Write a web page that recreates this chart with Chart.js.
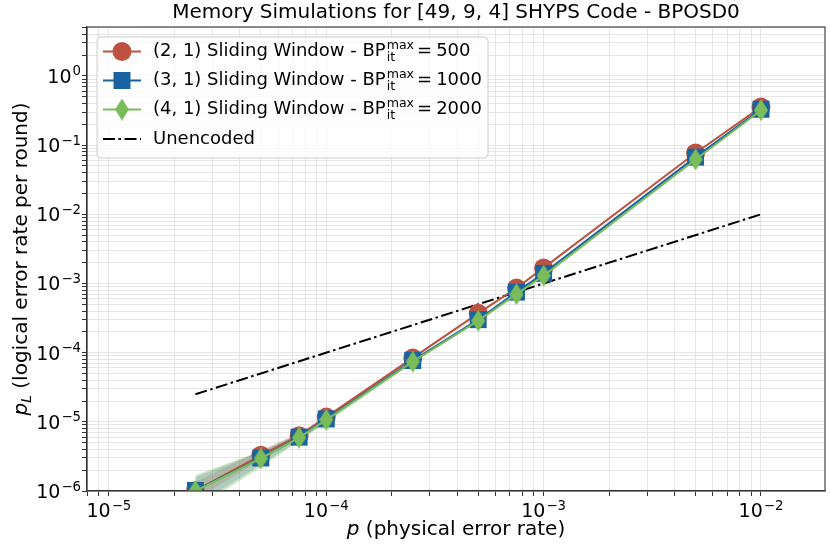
<!DOCTYPE html>
<html>
<head>
<meta charset="utf-8">
<script src="https://cdn.jsdelivr.net/npm/chart.js@4"></script>
<style>
  html, body { margin: 0; padding: 0; background: #fff; }
  #wrap { width: 830px; height: 554px; }
</style>
</head>
<body>
<div id="wrap"><canvas id="c" width="830" height="554"></canvas></div>
<script>
// ---- data ----
const physErr = [2.5e-5, 5e-5, 7.5e-5, 1e-4, 2.5e-4, 5e-4, 7.5e-4, 1e-3, 5e-3, 1e-2];
const sw21 = [1.0e-6, 3.3e-6, 6.3e-6, 1.17e-5, 8.4e-5, 3.7e-4, 8.6e-4, 1.68e-3, 0.077, 0.355];
const sw31 = [1.02e-6, 3.0e-6, 6.0e-6, 1.1e-5, 7.7e-5, 3.0e-4, 7.5e-4, 1.4e-3, 0.067, 0.33];
const sw41 = [1.0e-6, 2.95e-6, 5.9e-6, 1.07e-5, 7.4e-5, 2.9e-4, 7.0e-4, 1.3e-3, 0.062, 0.32];
const sw21Lo = [7.5e-7, 2.8e-6, 5.7e-6, 1.09e-5, 8.1e-5, 3.6e-4, 8.4e-4, 1.65e-3, 0.076, 0.352];
const sw21Hi = [1.35e-6, 3.9e-6, 6.9e-6, 1.26e-5, 8.7e-5, 3.8e-4, 8.8e-4, 1.71e-3, 0.078, 0.358];
const sw31Lo = [6.0e-7, 2.4e-6, 5.4e-6, 1.0e-5, 7.4e-5, 2.9e-4, 7.3e-4, 1.37e-3, 0.066, 0.327];
const sw31Hi = [1.6e-6, 3.7e-6, 6.7e-6, 1.2e-5, 8.0e-5, 3.1e-4, 7.7e-4, 1.43e-3, 0.068, 0.333];
const sw41Lo = [5.5e-7, 2.2e-6, 5.2e-6, 9.7e-6, 7.1e-5, 2.8e-4, 6.8e-4, 1.27e-3, 0.061, 0.317];
const sw41Hi = [1.7e-6, 3.8e-6, 6.7e-6, 1.18e-5, 7.7e-5, 3.0e-4, 7.2e-4, 1.33e-3, 0.063, 0.323];
const unencX = [2.5e-5, 1e-2];
const unencY = [2.5e-5, 1e-2];
const seriesNames = ['(2, 1) Sliding Window - BP', '(3, 1) Sliding Window - BP', '(4, 1) Sliding Window - BP'];
const bpMax = ['500', '1000', '2000'];
const unencName = 'Unencoded';
const titleText = 'Memory Simulations for [49, 9, 4] SHYPS Code - BPOSD0';
const xTitle = ' (physical error rate)';
const yTitle = ' (logical error rate per round)';

// ---- styles ----
const RED = '#bd5242', BLUE = '#1a63a0', GREEN = '#7bbc5a';
const FONT = "'DejaVu Sans'";

function pts(xs, ys) { return xs.map((x, i) => ({ x: x, y: ys[i] })); }

function diamondImg(w, h, color) {
  const c = document.createElement('canvas');
  c.width = w; c.height = h;
  const g = c.getContext('2d');
  g.fillStyle = color;
  g.beginPath();
  g.moveTo(w / 2, 0); g.lineTo(w, h / 2); g.lineTo(w / 2, h); g.lineTo(0, h / 2);
  g.closePath(); g.fill();
  return c;
}
const diamond = diamondImg(14, 22, GREEN);

function band(lo, hi, color) {
  return [
    { data: pts(physErr, lo), borderWidth: 0, pointRadius: 0, fill: false, order: 10, backgroundColor: color },
    { data: pts(physErr, hi), borderWidth: 0, pointRadius: 0, fill: '-1', order: 10, backgroundColor: color }
  ];
}

function logTicks(scale) {
  const t = [];
  const e0 = Math.floor(Math.log10(scale.min)), e1 = Math.ceil(Math.log10(scale.max));
  for (let e = e0; e <= e1; e++) {
    for (let m = 1; m <= 9; m++) {
      const v = m * Math.pow(10, e);
      if (v >= scale.min * 0.9999 && v <= scale.max * 1.0001) t.push({ value: v, major: m === 1 });
    }
  }
  scale.ticks = t;
}
function decadeExp(v) {
  const e = Math.round(Math.log10(v));
  return Math.abs(v / Math.pow(10, e) - 1) > 1e-6 ? null : e;
}
function drawPow(ctx, e, x, baseY, align) {
  ctx.font = '19px ' + FONT;
  const w10 = ctx.measureText('10').width;
  const es = e < 0 ? '\u2212' + Math.abs(e) : String(e);
  ctx.font = '13.3px ' + FONT;
  const we = ctx.measureText(es).width;
  const total = w10 + 1 + we;
  const sx = align === 'center' ? x - total / 2 : x - total;
  ctx.textAlign = 'left'; ctx.textBaseline = 'alphabetic';
  ctx.font = '19px ' + FONT;
  ctx.fillText('10', sx, baseY);
  ctx.font = '13.3px ' + FONT;
  ctx.fillText(es, sx + w10 + 1, baseY - 7.5);
}

const gridCfg = { color: '#e0e0e0', lineWidth: 0.8, borderDash: [4.5, 2.5], drawTicks: true, tickLength: 5, tickColor: '#333', tickWidth: 1, tickBorderDash: [] };

const decorPlugin = {
  id: 'decor',
  afterDraw(chart) {
    const ctx = chart.ctx, a = chart.chartArea;
    ctx.save();
    // frame
    ctx.strokeStyle = '#333'; ctx.lineWidth = 1.1;
    ctx.strokeRect(a.left, a.top, a.right - a.left, a.bottom - a.top);

    // title
    ctx.fillStyle = '#000'; ctx.textAlign = 'center'; ctx.textBaseline = 'middle';
    ctx.font = '20px ' + FONT;
    ctx.fillText(titleText, (a.left + a.right) / 2, 13);

    // tick labels
    const xs = chart.scales.x, ys = chart.scales.y;
    xs.ticks.forEach(t => {
      const e = decadeExp(t.value);
      if (e !== null) drawPow(ctx, e, xs.getPixelForValue(t.value), a.bottom + 26, 'center');
    });
    ys.ticks.forEach(t => {
      const e = decadeExp(t.value);
      if (e !== null) drawPow(ctx, e, a.left - 6, ys.getPixelForValue(t.value) + 7, 'right');
    });

    // x title
    ctx.fillStyle = '#000'; ctx.textBaseline = 'middle'; ctx.textAlign = 'left';
    ctx.font = 'italic 20px ' + FONT;
    const wp = ctx.measureText('p').width;
    ctx.font = '20px ' + FONT;
    const wr = ctx.measureText(xTitle).width;
    let sx = (a.left + a.right) / 2 - (wp + wr) / 2;
    ctx.font = 'italic 20px ' + FONT;
    ctx.fillText('p', sx, 530);
    ctx.font = '20px ' + FONT;
    ctx.fillText(xTitle, sx + wp, 530);

    // y title
    ctx.save();
    ctx.translate(22, (a.top + a.bottom) / 2);
    ctx.rotate(-Math.PI / 2);
    ctx.font = 'italic 20px ' + FONT;
    const wp2 = ctx.measureText('p').width;
    ctx.font = 'italic 14px ' + FONT;
    const wl = ctx.measureText('L').width;
    ctx.font = '20px ' + FONT;
    const wr2 = ctx.measureText(yTitle).width;
    let yx = -(wp2 + wl + wr2) / 2;
    ctx.font = 'italic 20px ' + FONT; ctx.fillText('p', yx, 0);
    ctx.font = 'italic 14px ' + FONT; ctx.fillText('L', yx + wp2, 5);
    ctx.font = '20px ' + FONT; ctx.fillText(yTitle, yx + wp2 + wl, 0);
    ctx.restore();

    // legend
    const lx = 97, ly = 37, lw = 391, lh = 121;
    ctx.beginPath();
    ctx.roundRect(lx, ly, lw, lh, 4);
    ctx.fillStyle = 'rgba(255,255,255,0.8)'; ctx.fill();
    ctx.strokeStyle = '#cccccc'; ctx.lineWidth = 1; ctx.stroke();
    const rows = [51.5, 80.5, 109.5, 139];
    const cols = [RED, BLUE, GREEN];
    ctx.textBaseline = 'middle';
    for (let i = 0; i < 3; i++) {
      const y = rows[i];
      ctx.strokeStyle = cols[i]; ctx.lineWidth = 2; ctx.setLineDash([]);
      ctx.beginPath(); ctx.moveTo(103, y); ctx.lineTo(141, y); ctx.stroke();
      ctx.fillStyle = cols[i];
      if (i === 0) { ctx.beginPath(); ctx.arc(122, y, 9.5, 0, Math.PI * 2); ctx.fill(); }
      else if (i === 1) { ctx.fillRect(122 - 8.5, y - 8.5, 17, 17); }
      else { ctx.drawImage(diamond, 122 - 7, y - 11); }
      ctx.fillStyle = '#000';
      ctx.font = '18px ' + FONT;
      ctx.fillText(seriesNames[i], 153, y);
      let tx = 153 + ctx.measureText(seriesNames[i]).width + 1;
      ctx.font = '12.6px ' + FONT;
      const wmax = ctx.measureText('max').width;
      ctx.fillText('max', tx, y - 6);
      ctx.fillText('it', tx, y + 6);
      tx += wmax + 3;
      ctx.font = '18px ' + FONT;
      ctx.fillText('=', tx, y);
      tx += ctx.measureText('=').width + 4;
      ctx.fillText(bpMax[i], tx, y);
    }
    ctx.strokeStyle = '#000'; ctx.lineWidth = 2; ctx.setLineDash([12, 3.5, 2.5, 3.5]);
    ctx.beginPath(); ctx.moveTo(103, rows[3]); ctx.lineTo(141, rows[3]); ctx.stroke();
    ctx.setLineDash([]);
    ctx.fillStyle = '#000'; ctx.font = '18px ' + FONT;
    ctx.fillText(unencName, 153, rows[3]);
    ctx.restore();
  }
};

function fixX(s) { s.height = 63; s.paddingLeft = 0; s.paddingRight = 0; s.paddingTop = 0; s.paddingBottom = 0; }
function fixY(s) { s.width = 87; s.paddingLeft = 0; s.paddingRight = 0; s.paddingTop = 0; s.paddingBottom = 0; }

new Chart(document.getElementById('c'), {
  type: 'line',
  data: {
    datasets: [
      { label: 'sw41', data: pts(physErr, sw41), borderColor: GREEN, backgroundColor: GREEN, borderWidth: 2, pointStyle: diamond, pointRadius: 11, order: 0, fill: false },
      { label: 'sw31', data: pts(physErr, sw31), borderColor: BLUE, backgroundColor: BLUE, borderWidth: 2, pointStyle: 'rect', pointRadius: 12, pointBorderWidth: 0, order: 1, fill: false },
      { label: 'sw21', data: pts(physErr, sw21), borderColor: RED, backgroundColor: RED, borderWidth: 2, pointStyle: 'circle', pointRadius: 9.5, pointBorderWidth: 0, order: 2, fill: false },
      { label: 'unenc', data: pts(unencX, unencY), borderColor: '#000', borderWidth: 2, borderDash: [12, 3.5, 2.5, 3.5], pointRadius: 0, order: 3, fill: false },
      ...band(sw21Lo, sw21Hi, 'rgba(189,82,66,0.18)'),
      ...band(sw31Lo, sw31Hi, 'rgba(26,99,160,0.2)'),
      ...band(sw41Lo, sw41Hi, 'rgba(123,188,90,0.35)')
    ]
  },
  options: {
    responsive: false,
    animation: false,
    devicePixelRatio: 1,
    layout: { autoPadding: false, padding: { top: 27, right: 5, left: 0, bottom: 0 } },
    plugins: {
      legend: { display: false },
      tooltip: { enabled: false },
      title: { display: false }
    },
    scales: {
      x: {
        type: 'logarithmic', min: 7.93e-6, max: 1.97e-2,
        afterBuildTicks: logTicks,
        afterFit: fixX,
        grid: gridCfg,
        border: { display: true, color: '#333', width: 1.1 },
        ticks: { display: false, autoSkip: false, maxRotation: 0 }
      },
      y: {
        type: 'logarithmic', min: 1e-6, max: 5.1,
        afterBuildTicks: logTicks,
        afterFit: fixY,
        grid: gridCfg,
        border: { display: true, color: '#333', width: 1.1 },
        ticks: { display: false, autoSkip: false }
      }
    }
  },
  plugins: [decorPlugin]
});
</script>
</body>
</html>
